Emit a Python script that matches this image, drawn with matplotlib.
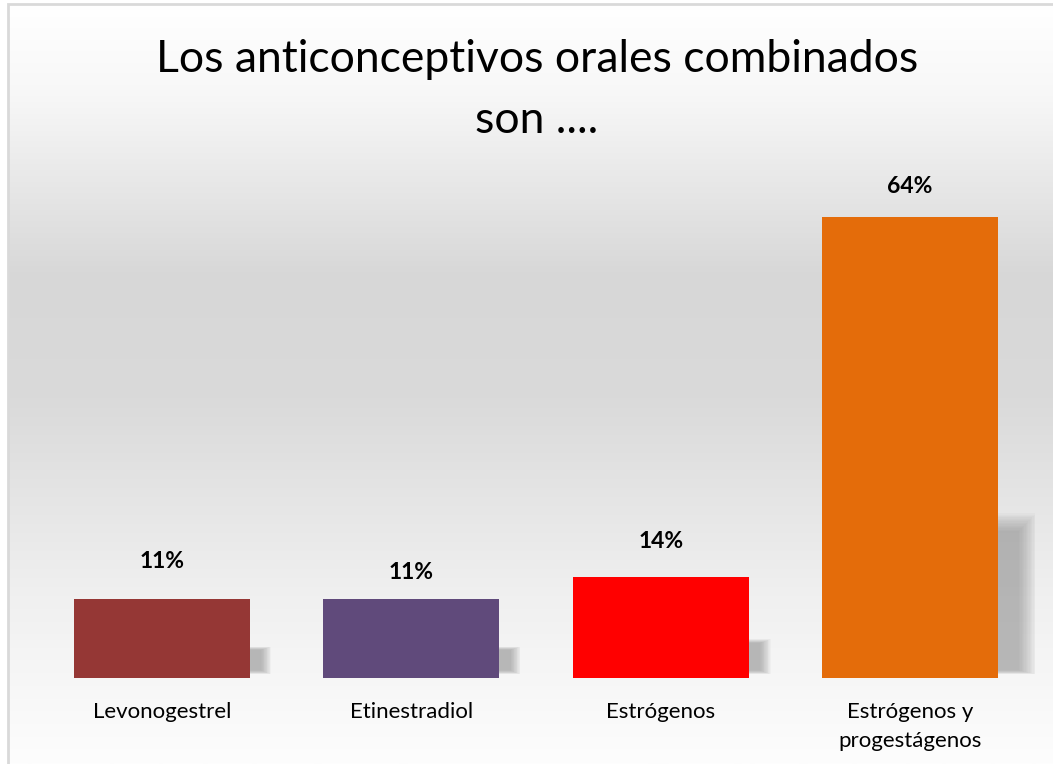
import numpy as np
import matplotlib
matplotlib.use("Agg")
import matplotlib.pyplot as plt
from matplotlib.patches import Rectangle
from matplotlib.colors import LinearSegmentedColormap

# chart data
categories = ["Levonogestrel", "Etinestradiol", "Estrógenos", "Estrógenos y\nprogestágenos"]
values = [11, 11, 14, 64]
value_labels = ["11%", "11%", "14%", "64%"]
bar_colors = ["#953735", "#604A7B", "#FF0000", "#E46C0A"]
title = "Los anticonceptivos orales combinados\nson ...."

plt.rcParams["font.family"] = ["Lato", "DejaVu Sans"]

W, H = 1053, 764
fig = plt.figure(figsize=(W / 100, H / 100), dpi=100)
fig.patch.set_facecolor("white")

# background gradient (white -> light gray -> white) inside a thin gray frame
bg = fig.add_axes([8 / W, 0, 1 - 8 / W, 1 - 4 / H], zorder=0)
grad_cmap = LinearSegmentedColormap.from_list(
    "bg", [(0.0, "#ffffff"), (0.12, "#f7f7f7"), (0.36, "#d7d7d7"),
           (0.52, "#dadada"), (0.78, "#f0f0f0"), (1.0, "#fdfdfd")])
grad = np.linspace(0, 1, 256).reshape(-1, 1)
bg.imshow(grad, aspect="auto", cmap=grad_cmap, extent=[0, 1, 0, 1],
          origin="upper", vmin=0, vmax=1)
bg.set_xlim(0, 1)
bg.set_ylim(0, 1)
bg.axis("off")
fig.add_artist(Rectangle((8 / W, -0.01), 1.0, 1 - 4 / H + 0.01, transform=fig.transFigure,
                         fill=False, edgecolor="#d9d9d9", lw=2, zorder=0.5))

ax = fig.add_axes([37.5 / W, 86 / H, 997 / W, 504 / H], zorder=1)
ax.patch.set_alpha(0)

x = np.arange(len(categories))
width = 0.707

# soft perspective shadows to the right of the bars
n_layers = 14
for xi, v in zip(x, values):
    right = xi + width / 2
    sw = 0.08 + 0.0013 * v
    top = 0.35 * v
    for k in range(n_layers):
        f = k / n_layers
        ax.add_patch(Rectangle((right - 0.01, 0.5 + 0.6 * f),
                               sw * (1 - 0.45 * f), top * (1 - 0.12 * f) - 0.6 * f,
                               facecolor="#7a7a7a", alpha=0.045, lw=0, zorder=1))

bars = ax.bar(x, values, width=width, color=bar_colors, zorder=2)

offsets_px = [37, 26, 36, 31]
for b, lab, off in zip(bars, value_labels, offsets_px):
    ax.annotate(lab, (b.get_x() + b.get_width() / 2, b.get_height()),
                xytext=(0, off * 0.72), textcoords="offset points",
                ha="center", va="center", fontsize=16.5, fontweight="bold")

ax.set_xlim(-0.5, len(categories) - 0.5)
ax.set_ylim(0, 70)
ax.set_xticks(x)
ax.set_xticklabels(categories, fontsize=16, linespacing=1.6)
ax.tick_params(axis="x", length=0, pad=17)
ax.set_yticks([])
for s in ax.spines.values():
    s.set_visible(False)

fig.text(0.510, 1 - 90 / H, title, ha="center", va="center", fontsize=32,
         linespacing=1.6, color="#000000")

fig.savefig("out.png", dpi=100)
